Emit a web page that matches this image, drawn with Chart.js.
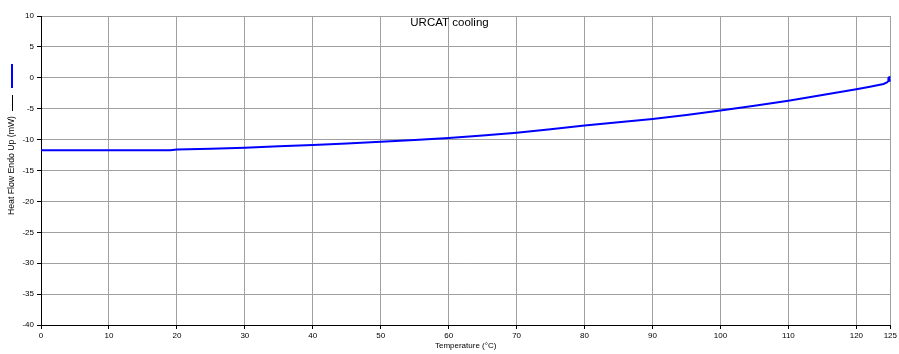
<!DOCTYPE html>
<html>
<head>
<meta charset="utf-8">
<script src="https://cdn.jsdelivr.net/npm/chart.js@4/dist/chart.umd.min.js"></script>
<style>
  html, body { margin: 0; padding: 0; background: #fff; }
  #wrap { width: 899px; height: 354px; }
</style>
</head>
<body>
<div id="wrap"><canvas id="c" width="899" height="354"></canvas></div>
<script>
// Cooling run: temperature (°C) and heat flow (mW)
const temperature = [0, 5, 10, 15, 19, 20, 25, 30, 35, 40, 45, 50, 55, 60, 65, 70, 75, 80, 85, 90, 95, 100, 105, 110, 115, 120, 122, 124, 124.5, 124.8, 125];
const heatFlow = [-11.73, -11.73, -11.73, -11.73, -11.72, -11.6, -11.47, -11.3, -11.08, -10.87, -10.62, -10.34, -10.07, -9.76, -9.35, -8.88, -8.33, -7.72, -7.2, -6.67, -6.02, -5.3, -4.52, -3.7, -2.8, -1.86, -1.45, -1.0, -0.75, -0.45, -0.2];

const xTicks = [0, 10, 20, 30, 40, 50, 60, 70, 80, 90, 100, 110, 120, 125];
const yTicks = [-40, -35, -30, -25, -20, -15, -10, -5, 0, 5, 10];

const chartTitle = 'URCAT cooling';
const xTitle = 'Temperature (°C)';
const yTitle = 'Heat Flow Endo Up (mW)';

const FONT = '"Liberation Sans", Arial, sans-serif';
const GRID = '#a0a0a0';

// Title inside the plot and the rotated y label with its series key
const decorations = {
  id: 'decorations',
  afterDraw(chart) {
    const { ctx, chartArea } = chart;
    ctx.save();
    ctx.fillStyle = '#000';
    ctx.textAlign = 'center';
    ctx.textBaseline = 'middle';
    ctx.font = '11.5px ' + FONT;
    ctx.fillText(chartTitle, chart.width / 2, chartArea.top + 7);

    // rotated axis label
    ctx.save();
    ctx.translate(12, 165.5);
    ctx.rotate(-Math.PI / 2);
    ctx.font = '8.7px ' + FONT;
    ctx.fillText(yTitle, 0, 0);
    ctx.restore();

    // series key: black rule, then blue line sample
    ctx.strokeStyle = '#000';
    ctx.lineWidth = 1;
    ctx.beginPath();
    ctx.moveTo(12.5, 95);
    ctx.lineTo(12.5, 111);
    ctx.stroke();

    ctx.strokeStyle = '#0000ff';
    ctx.lineWidth = 2;
    ctx.beginPath();
    ctx.moveTo(12, 64);
    ctx.lineTo(12, 88);
    ctx.stroke();
    ctx.restore();
  }
};

const points = temperature.map((t, i) => ({ x: t, y: heatFlow[i] }));
const lastIndex = points.length - 1;

new Chart(document.getElementById('c'), {
  type: 'scatter',
  data: {
    datasets: [{
      data: points,
      showLine: true,
      borderColor: '#0000ff',
      backgroundColor: '#0000ff',
      borderWidth: 2,
      tension: 0,
      pointRadius: ctx => (ctx.dataIndex === lastIndex ? 2 : 0),
      pointHoverRadius: 0
    }]
  },
  options: {
    responsive: false,
    devicePixelRatio: 1,
    animation: false,
    events: [],
    layout: { padding: { top: 16, right: 8, left: 0, bottom: 0 } },
    plugins: {
      legend: { display: false },
      tooltip: { enabled: false },
      title: { display: false }
    },
    scales: {
      x: {
        type: 'linear',
        min: 0,
        max: 125,
        afterBuildTicks: s => { s.ticks = xTicks.map(v => ({ value: v })); },
        afterFit: s => { s.height = 29; },
        ticks: {
          autoSkip: false,
          maxRotation: 0,
          minRotation: 0,
          padding: 2,
          color: '#000',
          font: { family: FONT, size: 8 }
        },
        grid: { color: GRID, lineWidth: 1, tickLength: 4, tickColor: '#000' },
        border: { color: '#000', width: 1 },
        title: {
          display: true,
          text: xTitle,
          color: '#000',
          font: { family: FONT, size: 8 },
          padding: { top: 0, bottom: 3 }
        }
      },
      y: {
        type: 'linear',
        min: -40,
        max: 10,
        afterBuildTicks: s => { s.ticks = yTicks.map(v => ({ value: v })); },
        afterFit: s => { s.width = 41; },
        ticks: {
          autoSkip: false,
          padding: 3,
          color: '#000',
          font: { family: FONT, size: 8 }
        },
        grid: { color: GRID, lineWidth: 1, tickLength: 4, tickColor: '#000' },
        border: { color: '#000', width: 1 }
      }
    }
  },
  plugins: [decorations]
});
</script>
</body>
</html>
